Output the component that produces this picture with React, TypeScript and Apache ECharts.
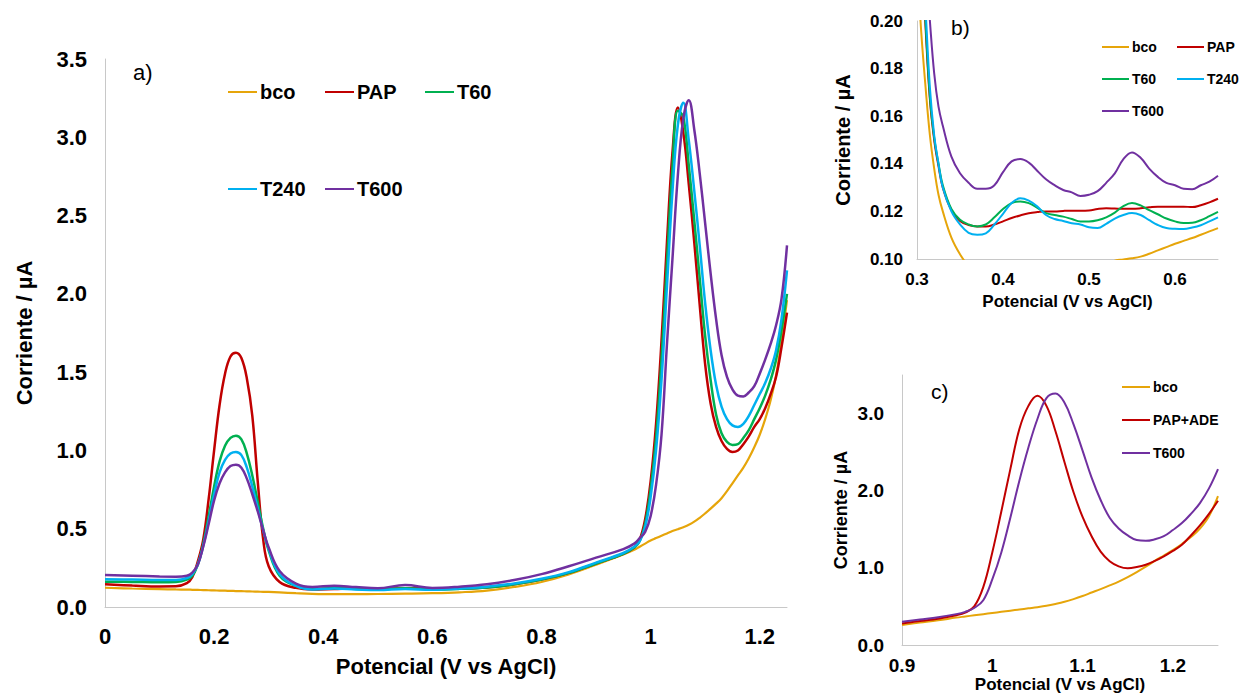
import React, { useEffect, useRef } from "react";
import * as echarts from "echarts";

// ---------- Panel a) main voltammogram ----------
const mainX = [0, 0.05, 0.1, 0.13, 0.15, 0.16, 0.17, 0.18, 0.19, 0.2, 0.21, 0.22, 0.23, 0.24, 0.25, 0.26, 0.27, 0.28, 0.29, 0.3, 0.32, 0.35, 0.38, 0.42, 0.46, 0.5, 0.55, 0.6, 0.65, 0.7, 0.75, 0.8, 0.85, 0.9, 0.95, 0.97, 0.98, 0.99, 1.0, 1.01, 1.02, 1.03, 1.04, 1.05, 1.06, 1.07, 1.08, 1.09, 1.1, 1.11, 1.12, 1.13, 1.14, 1.15, 1.16, 1.17, 1.18, 1.19, 1.2, 1.21, 1.22, 1.23, 1.24, 1.25];
const mainBco = [0.123, 0.118, 0.114, 0.112, 0.111, 0.11, 0.109, 0.108, 0.107, 0.106, 0.105, 0.104, 0.103, 0.102, 0.101, 0.1, 0.099, 0.098, 0.097, 0.096, 0.093, 0.088, 0.084, 0.082, 0.082, 0.083, 0.085, 0.088, 0.094, 0.105, 0.128, 0.16, 0.208, 0.27, 0.335, 0.365, 0.385, 0.405, 0.425, 0.44, 0.455, 0.47, 0.485, 0.497, 0.51, 0.525, 0.545, 0.57, 0.598, 0.628, 0.66, 0.695, 0.74, 0.79, 0.84, 0.89, 0.95, 1.02, 1.1, 1.2, 1.32, 1.48, 1.7, 1.96];
const mainPap = [0.145, 0.137, 0.131, 0.132, 0.152, 0.19, 0.29, 0.43, 0.69, 1.0, 1.29, 1.49, 1.6, 1.624, 1.59, 1.46, 1.22, 0.8, 0.43, 0.26, 0.16, 0.122, 0.112, 0.115, 0.118, 0.118, 0.118, 0.12, 0.118, 0.125, 0.145, 0.175, 0.218, 0.278, 0.34, 0.38, 0.43, 0.56, 0.8, 1.17, 1.7, 2.33, 2.9, 3.19, 3.03, 2.7, 2.33, 1.93, 1.55, 1.3, 1.15, 1.06, 1.01, 0.99, 1.0, 1.04, 1.09, 1.15, 1.2, 1.27, 1.36, 1.47, 1.66, 1.88];
const mainT60 = [0.162, 0.16, 0.158, 0.16, 0.175, 0.2, 0.27, 0.4, 0.58, 0.77, 0.93, 1.03, 1.08, 1.094, 1.07, 0.98, 0.84, 0.67, 0.5, 0.36, 0.2, 0.135, 0.115, 0.122, 0.115, 0.112, 0.12, 0.112, 0.116, 0.125, 0.145, 0.175, 0.218, 0.278, 0.34, 0.38, 0.42, 0.53, 0.75, 1.08, 1.58, 2.2, 2.8, 3.17, 3.13, 2.82, 2.47, 2.1, 1.73, 1.45, 1.23, 1.11, 1.055, 1.035, 1.04, 1.08, 1.13, 1.2, 1.27, 1.35, 1.45, 1.58, 1.77, 2.0];
const mainT240 = [0.177, 0.175, 0.172, 0.172, 0.185, 0.21, 0.27, 0.39, 0.55, 0.72, 0.86, 0.94, 0.98, 0.99, 0.97, 0.89, 0.77, 0.63, 0.49, 0.37, 0.21, 0.135, 0.112, 0.118, 0.112, 0.108, 0.115, 0.11, 0.118, 0.13, 0.15, 0.18, 0.223, 0.283, 0.345, 0.385, 0.42, 0.51, 0.7, 1.0, 1.45, 2.05, 2.65, 3.08, 3.22, 2.98, 2.66, 2.31, 1.94, 1.64, 1.42, 1.28, 1.2, 1.16, 1.15, 1.17, 1.22, 1.29, 1.36, 1.43, 1.52, 1.64, 1.84, 2.15];
const mainT600 = [0.205, 0.2, 0.195, 0.194, 0.2, 0.22, 0.27, 0.385, 0.53, 0.68, 0.79, 0.86, 0.9, 0.909, 0.89, 0.82, 0.72, 0.61, 0.49, 0.38, 0.23, 0.15, 0.128, 0.136, 0.127, 0.12, 0.14, 0.122, 0.13, 0.145, 0.172, 0.21, 0.26, 0.315, 0.37, 0.405, 0.44, 0.48, 0.58, 0.78, 1.1, 1.68, 2.22, 2.76, 3.12, 3.237, 3.05, 2.77, 2.45, 2.13, 1.84, 1.61, 1.47, 1.39, 1.35, 1.345, 1.37, 1.41, 1.49, 1.58, 1.68, 1.8, 1.97, 2.31];

// ---------- Panel b) zoom 0.3 - 0.65 V ----------
const bX = [0.3, 0.305, 0.31, 0.315, 0.32, 0.325, 0.33, 0.34, 0.35, 0.36, 0.37, 0.38, 0.39, 0.4, 0.41, 0.42, 0.43, 0.44, 0.45, 0.46, 0.47, 0.48, 0.49, 0.5, 0.51, 0.52, 0.53, 0.54, 0.55, 0.56, 0.57, 0.58, 0.59, 0.6, 0.61, 0.62, 0.63, 0.64, 0.65];
const bBco = [0.225, 0.195, 0.172, 0.152, 0.138, 0.127, 0.12, 0.109, 0.102, 0.097, 0.094, 0.092, 0.091, 0.09, 0.089, 0.089, 0.089, 0.089, 0.09, 0.091, 0.092, 0.093, 0.094, 0.095, 0.096, 0.098, 0.0993, 0.0998, 0.1003, 0.101, 0.1022, 0.1036, 0.105, 0.1064, 0.1076, 0.1088, 0.1102, 0.1116, 0.113];
const bPap = [0.27, 0.232, 0.197, 0.167, 0.15, 0.139, 0.13, 0.1205, 0.116, 0.1143, 0.1137, 0.1137, 0.1145, 0.1158, 0.1172, 0.1183, 0.1192, 0.1197, 0.12, 0.12, 0.1202, 0.1203, 0.1203, 0.1204, 0.121, 0.1213, 0.1212, 0.1211, 0.1211, 0.1213, 0.1217, 0.122, 0.122, 0.122, 0.122, 0.1218, 0.1226, 0.1238, 0.1253];
const bT60 = [0.27, 0.232, 0.199, 0.168, 0.151, 0.14, 0.131, 0.121, 0.1165, 0.1145, 0.1137, 0.1145, 0.1175, 0.121, 0.1235, 0.1242, 0.1235, 0.1215, 0.1193, 0.1185, 0.1178, 0.1168, 0.1158, 0.1158, 0.1163, 0.1175, 0.1195, 0.1222, 0.1235, 0.1225, 0.1205, 0.1188, 0.117, 0.1158, 0.1151, 0.1152, 0.1163, 0.118, 0.1198];
const bT240 = [0.28, 0.24, 0.205, 0.172, 0.152, 0.14, 0.13, 0.12, 0.1145, 0.111, 0.1102, 0.1108, 0.1145, 0.119, 0.1235, 0.1255, 0.1245, 0.122, 0.1185, 0.1168, 0.116, 0.115, 0.1145, 0.1133, 0.113, 0.1148, 0.117, 0.1185, 0.1193, 0.1185, 0.1163, 0.1143, 0.113, 0.1127, 0.1126, 0.1132, 0.1142, 0.1158, 0.1175];
const bT600 = [0.3, 0.26, 0.225, 0.2, 0.178, 0.164, 0.156, 0.143, 0.136, 0.132, 0.1295, 0.1295, 0.131, 0.1365, 0.141, 0.142, 0.1405, 0.137, 0.1335, 0.131, 0.129, 0.128, 0.1265, 0.127, 0.1285, 0.132, 0.136, 0.142, 0.1448, 0.1425, 0.138, 0.1345, 0.132, 0.131, 0.1295, 0.1293, 0.131, 0.1325, 0.135];

// ---------- Panel c) zoom 0.9 - 1.25 V ----------
const cX = [0.9, 0.92, 0.94, 0.96, 0.97, 0.98, 0.99, 1.0, 1.01, 1.02, 1.03, 1.04, 1.05, 1.06, 1.07, 1.08, 1.09, 1.1, 1.11, 1.12, 1.13, 1.14, 1.15, 1.16, 1.17, 1.18, 1.19, 1.2, 1.21, 1.22, 1.23, 1.24, 1.25];
const cBco = [0.26, 0.29, 0.32, 0.355, 0.37, 0.385, 0.4, 0.415, 0.43, 0.445, 0.46, 0.475, 0.49, 0.508, 0.532, 0.56, 0.595, 0.635, 0.68, 0.725, 0.772, 0.822, 0.88, 0.945, 1.015, 1.09, 1.16, 1.23, 1.31, 1.4, 1.51, 1.67, 1.93];
const cPapAde = [0.28, 0.31, 0.34, 0.385, 0.42, 0.5, 0.75, 1.2, 1.73, 2.28, 2.8, 3.1, 3.23, 3.1, 2.77, 2.37, 1.98, 1.66, 1.41, 1.21, 1.086, 1.02, 0.995, 1.01, 1.04, 1.09, 1.15, 1.22, 1.3, 1.42, 1.55, 1.7, 1.87];
const cT600 = [0.3, 0.33, 0.36, 0.4, 0.43, 0.48, 0.58, 0.85, 1.2, 1.65, 2.13, 2.56, 2.93, 3.2, 3.26, 3.14, 2.86, 2.52, 2.17, 1.88, 1.65, 1.51, 1.42, 1.36, 1.35, 1.37, 1.41, 1.49, 1.58, 1.7, 1.84, 2.03, 2.28];

const FONT = "'Liberation Sans', Arial, sans-serif";
const COLORS: Record<string, string> = {
  bco: "#E6A50A",
  PAP: "#C00000",
  "PAP+ADE": "#C00000",
  T60: "#00B050",
  T240: "#00B0F0",
  T600: "#7030A0",
};

const pairs = (xs: number[], ys: number[]) => xs.map((x, i) => [x, ys[i]]);

function line(name: string, xs: number[], ys: number[], idx: number, width: number) {
  return {
    type: "line",
    name,
    xAxisIndex: idx,
    yAxisIndex: idx,
    data: pairs(xs, ys),
    symbol: "none",
    showSymbol: false,
    smooth: 0.4,
    clip: true,
    color: COLORS[name],
    lineStyle: { color: COLORS[name], width },
    emphasis: { disabled: true },
  };
}

const axisLine = { show: true, onZero: false, lineStyle: { color: "#C8C8C8", width: 1 } };

function xAx(gi: number, min: number, max: number, interval: number, fs: number, margin: number, nfs: number, gap: number) {
  return {
    type: "value",
    gridIndex: gi,
    min,
    max,
    interval,
    axisLine,
    axisTick: { show: false },
    splitLine: { show: false },
    axisLabel: { fontFamily: FONT, fontWeight: "bold", fontSize: fs, color: "#000", margin, showMaxLabel: false },
    name: "Potencial (V vs AgCl)",
    nameLocation: "middle",
    nameGap: gap,
    nameTextStyle: { fontFamily: FONT, fontWeight: "bold", fontSize: nfs, color: "#000" },
  };
}

function yAx(gi: number, min: number, max: number, interval: number, dec: number, fs: number, margin: number, nfs: number, gap: number, showMax: boolean) {
  return {
    type: "value",
    gridIndex: gi,
    min,
    max,
    interval,
    axisLine,
    axisTick: { show: false },
    splitLine: { show: false },
    axisLabel: {
      fontFamily: FONT,
      fontWeight: "bold",
      fontSize: fs,
      color: "#000",
      margin,
      showMaxLabel: showMax,
      formatter: (v: number) => v.toFixed(dec),
    },
    name: "Corriente / µA",
    nameLocation: "middle",
    nameGap: gap,
    nameTextStyle: { fontFamily: FONT, fontWeight: "bold", fontSize: nfs, color: "#000" },
  };
}

function leg(name: string, left: number, top: number, fs: number, w: number, h: number) {
  return {
    data: [name],
    left,
    top,
    padding: 0,
    itemWidth: w,
    itemHeight: h,
    icon: "rect",
    selectedMode: false,
    textStyle: { fontFamily: FONT, fontWeight: "bold", fontSize: fs, color: "#000", padding: [0, 0, 0, -2] },
  };
}

export default function App() {
  const ref = useRef<HTMLDivElement>(null);
  useEffect(() => {
    document.body.style.margin = "0";
    const chart = echarts.init(ref.current!, null, { renderer: "svg" });
    const option: any = {
      animation: false,
      backgroundColor: "#fff",
      grid: [
        { left: 105, top: 59, width: 682, height: 548 },
        { left: 917, top: 21, width: 301, height: 238 },
        { left: 902, top: 375, width: 316, height: 270 },
      ],
      xAxis: [
        xAx(0, 0, 1.25, 0.2, 22, 18, 22, 48),
        xAx(1, 0.3, 0.65, 0.1, 17, 12, 17, 34),
        xAx(2, 0.9, 1.25, 0.1, 19, 11, 17, 30),
      ],
      yAxis: [
        yAx(0, 0, 3.5, 0.5, 1, 22, 18, 22, 70, true),
        yAx(1, 0.1, 0.2, 0.02, 2, 17, 14, 20, 64, true),
        yAx(2, 0, 3.5, 1, 1, 19, 18, 18, 52, false),
      ],
      legend: [
        leg("bco", 228, 82, 20, 29, 2),
        leg("PAP", 325, 82, 20, 29, 2),
        leg("T60", 425, 82, 20, 29, 2),
        leg("T240", 228, 179, 20, 29, 2),
        leg("T600", 325, 179, 20, 29, 2),
        leg("bco", 1102, 40, 14, 27, 2),
        leg("PAP", 1177, 40, 14, 27, 2),
        leg("T60", 1102, 72, 14, 27, 2),
        leg("T240", 1177, 72, 14, 27, 2),
        leg("T600", 1102, 104, 14, 27, 2),
        leg("bco", 1122, 380, 14, 28, 2),
        leg("PAP+ADE", 1122, 413, 14, 28, 2),
        leg("T600", 1122, 446, 14, 28, 2),
      ],
      graphic: [
        { type: "text", left: 133, top: 61, style: { text: "a)", fontSize: 22, fontFamily: FONT, fill: "#000" } },
        { type: "text", left: 951, top: 17, style: { text: "b)", fontSize: 21, fontFamily: FONT, fill: "#000" } },
        { type: "text", left: 931, top: 381, style: { text: "c)", fontSize: 21, fontFamily: FONT, fill: "#000" } },
      ],
      series: [
        line("bco", mainX, mainBco, 0, 2.2),
        line("PAP", mainX, mainPap, 0, 2.5),
        line("T60", mainX, mainT60, 0, 2.5),
        line("T240", mainX, mainT240, 0, 2.5),
        line("T600", mainX, mainT600, 0, 2.5),
        line("bco", bX, bBco, 1, 2),
        line("PAP", bX, bPap, 1, 2),
        line("T60", bX, bT60, 1, 2),
        line("T240", bX, bT240, 1, 2),
        line("T600", bX, bT600, 1, 2),
        line("bco", cX, cBco, 2, 2),
        line("PAP+ADE", cX, cPapAde, 2, 2),
        line("T600", cX, cT600, 2, 2),
      ],
    };
    chart.setOption(option);
    return () => chart.dispose();
  }, []);
  return <div ref={ref} style={{ width: 1245, height: 695 }} />;
}
